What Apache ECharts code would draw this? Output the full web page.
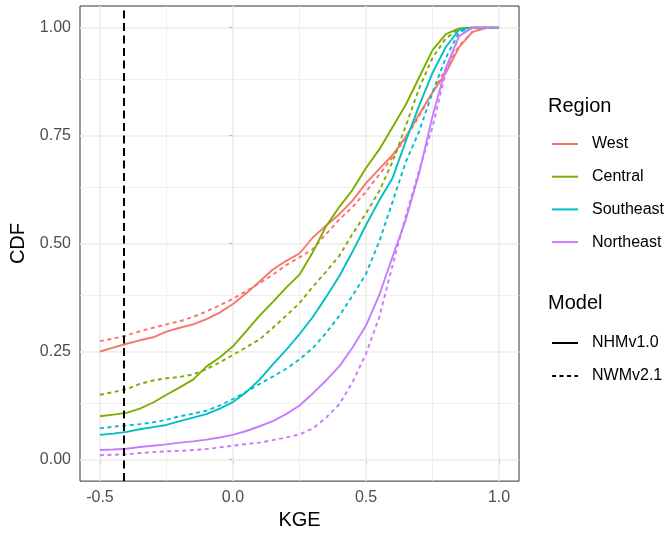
<!DOCTYPE html>
<html>
<head>
<meta charset="utf-8">
<script src="https://cdn.jsdelivr.net/npm/echarts@6/dist/echarts.min.js"></script>
<style>
html,body{margin:0;padding:0;background:#fff}
#chart{width:667px;height:535px}
</style>
</head>
<body>
<div id="chart"></div>
<script>
var kge=[-0.5,-0.45,-0.4,-0.35,-0.3,-0.25,-0.2,-0.15,-0.1,-0.05,0,0.05,0.1,0.15,0.2,0.25,0.3,0.35,0.4,0.45,0.5,0.55,0.6,0.65,0.7,0.75,0.8,0.85,0.9,0.95,1.0];

var westNHM=[0.25,0.259,0.268,0.276,0.283,0.296,0.305,0.313,0.325,0.34,0.36,0.385,0.412,0.44,0.46,0.477,0.514,0.542,0.568,0.6,0.64,0.673,0.705,0.748,0.8,0.85,0.895,0.955,0.99,0.999,1.0];
var westNWM=[0.274,0.28,0.287,0.297,0.305,0.313,0.32,0.33,0.343,0.357,0.372,0.39,0.408,0.428,0.45,0.468,0.487,0.522,0.556,0.585,0.62,0.66,0.7,0.745,0.795,0.85,0.905,0.958,0.99,0.999,1.0];
var centralNHM=[0.1,0.104,0.108,0.118,0.132,0.15,0.167,0.185,0.215,0.236,0.262,0.297,0.333,0.365,0.398,0.428,0.48,0.54,0.585,0.625,0.675,0.718,0.77,0.822,0.885,0.948,0.985,0.998,1.0,1.0,1.0];
var centralNWM=[0.15,0.156,0.163,0.175,0.183,0.188,0.191,0.197,0.209,0.225,0.242,0.26,0.278,0.305,0.333,0.362,0.4,0.435,0.472,0.523,0.57,0.622,0.69,0.773,0.86,0.93,0.975,0.997,1.0,1.0,1.0];
var southeastNHM=[0.057,0.06,0.064,0.07,0.075,0.08,0.089,0.097,0.105,0.118,0.133,0.156,0.185,0.22,0.254,0.29,0.33,0.376,0.425,0.482,0.543,0.6,0.652,0.738,0.82,0.895,0.955,0.995,1.0,1.0,1.0];
var southeastNWM=[0.072,0.076,0.079,0.082,0.086,0.092,0.1,0.106,0.113,0.125,0.14,0.157,0.175,0.192,0.21,0.232,0.258,0.293,0.333,0.38,0.43,0.505,0.597,0.69,0.76,0.85,0.93,0.99,1.0,1.0,1.0];
var northeastNHM=[0.022,0.023,0.025,0.029,0.032,0.035,0.039,0.042,0.046,0.051,0.057,0.066,0.077,0.089,0.105,0.125,0.153,0.183,0.216,0.26,0.31,0.381,0.47,0.556,0.664,0.795,0.907,0.98,1.0,1.0,1.0];
var northeastNWM=[0.01,0.011,0.012,0.015,0.017,0.019,0.02,0.022,0.024,0.028,0.032,0.036,0.039,0.045,0.051,0.058,0.072,0.097,0.128,0.18,0.245,0.33,0.45,0.565,0.67,0.77,0.898,0.982,1.0,1.0,1.0];

var regions=['West','Central','Southeast','Northeast'];
var regionColors=['#F8766D','#7CAE00','#00BFC4','#C77CFF'];
var models=['NHMv1.0','NWMv2.1'];
var curves=[[westNHM,westNWM],[centralNHM,centralNWM],[southeastNHM,southeastNWM],[northeastNHM,northeastNWM]];

var xTicks=[-0.5,0,0.5,1];
var xMinor=[-0.25,0.25,0.75];
var yTicks=[0,0.25,0.5,0.75,1];
var yMinor=[0.125,0.375,0.625,0.875];
var kgeRef=-0.41;

var font="'Liberation Sans', Arial, sans-serif";
var dashPat=[4,3.5];

function pairs(ys){
	var out=[];
	for(var i=0;i<kge.length;i++){ out.push([kge[i],ys[i]]); }
	return out;
}

// background grid lines as marklines
var gridLines=[];
xMinor.forEach(function(v){ gridLines.push({xAxis:v,lineStyle:{color:'#EBEBEB',width:0.8,type:'solid'}}); });
yMinor.forEach(function(v){ gridLines.push({yAxis:v,lineStyle:{color:'#EBEBEB',width:0.8,type:'solid'}}); });
xTicks.forEach(function(v){ gridLines.push({xAxis:v,lineStyle:{color:'#EBEBEB',width:1.6,type:'solid'}}); });
yTicks.forEach(function(v){ gridLines.push({yAxis:v,lineStyle:{color:'#EBEBEB',width:1.6,type:'solid'}}); });

var series=[{
	name:'grid',type:'line',data:[],symbol:'none',silent:true,z:0,
	markLine:{silent:true,symbol:['none','none'],label:{show:false},z:1,animation:false,data:gridLines}
}];

for(var r=0;r<regions.length;r++){
	for(var m=0;m<models.length;m++){
		series.push({
			name:regions[r]+' '+models[m],
			type:'line',
			data:pairs(curves[r][m]),
			symbol:'none',
			z:3,
			lineStyle:{color:regionColors[r],width:1.9,type:m==0?'solid':dashPat}
		});
	}
}

// vertical reference line
series.push({
	name:'ref',type:'line',data:[],symbol:'none',silent:true,z:4,
	markLine:{silent:true,symbol:['none','none'],label:{show:false},z:6,animation:false,
		data:[{xAxis:kgeRef,lineStyle:{color:'#000',width:2,type:[8,4.5]}}]}
});

// legend-only series
regions.forEach(function(name,i){
	series.push({name:name,type:'line',data:[],symbol:'none',lineStyle:{color:regionColors[i],width:2,type:'solid'},itemStyle:{color:regionColors[i]}});
});
models.forEach(function(name,i){
	series.push({name:name,type:'line',data:[],symbol:'none',lineStyle:{color:'#000',width:2,type:i==0?'solid':dashPat},itemStyle:{color:'#000'}});
});

var chart=echarts.init(document.getElementById('chart'));
chart.setOption({
	animation:false,
	backgroundColor:'#fff',
	title:[
		{text:'Region',left:548,top:96,padding:0,textStyle:{fontFamily:font,fontSize:20,fontWeight:'normal',color:'#000'}},
		{text:'Model',left:548,top:293,padding:0,textStyle:{fontFamily:font,fontSize:20,fontWeight:'normal',color:'#000'}}
	],
	legend:[
		{data:regions,orient:'vertical',left:551,top:136,padding:0,itemWidth:26,itemHeight:16,itemGap:16.7,selectedMode:false,
			itemStyle:{opacity:0},
			textStyle:{fontFamily:font,fontSize:16,color:'#000',padding:[0,0,0,9]}},
		{data:models,orient:'vertical',left:551,top:335,padding:0,itemWidth:26,itemHeight:16,itemGap:17,selectedMode:false,
			itemStyle:{opacity:0},
			textStyle:{fontFamily:font,fontSize:16,color:'#000',padding:[0,0,0,9]}}
	],
	grid:{left:80,top:6,width:439,height:476,show:true,borderColor:'#333333',borderWidth:1,backgroundColor:'#fff',containLabel:false},
	xAxis:{
		type:'value',min:-0.575,max:1.075,
		name:'KGE',nameLocation:'middle',nameGap:27,
		nameTextStyle:{fontFamily:font,fontSize:20,color:'#000'},
		axisLine:{show:false},
		axisTick:{show:true,length:4,customValues:xTicks,lineStyle:{color:'#333333',width:1}},
		axisLabel:{customValues:xTicks,margin:8,fontFamily:font,fontSize:16,color:'#4D4D4D',formatter:function(v){return v.toFixed(1);}},
		splitLine:{show:false}
	},
	yAxis:{
		type:'value',min:-0.05,max:1.05,
		name:'CDF',nameLocation:'middle',nameGap:42,
		nameTextStyle:{fontFamily:font,fontSize:20,color:'#000'},
		axisLine:{show:false},
		axisTick:{show:true,length:4,customValues:yTicks,lineStyle:{color:'#333333',width:1}},
		axisLabel:{customValues:yTicks,margin:9,fontFamily:font,fontSize:16,color:'#4D4D4D',formatter:function(v){return v.toFixed(2);}},
		splitLine:{show:false}
	},
	series:series
});
</script>
</body>
</html>
